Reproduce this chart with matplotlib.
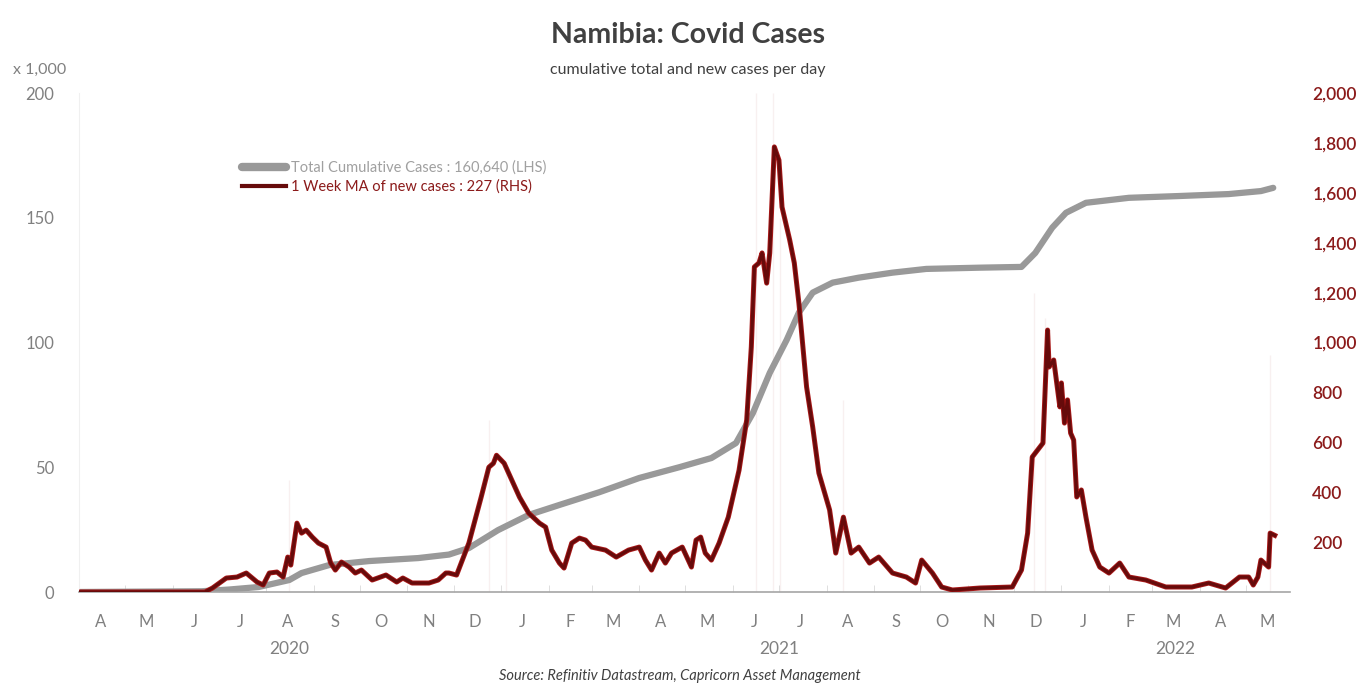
import matplotlib
matplotlib.use("Agg")
import matplotlib.pyplot as plt
import matplotlib.dates as mdates
from matplotlib.ticker import FuncFormatter
import numpy as np
import pandas as pd

plt.rcParams['font.family'] = ['Lato', 'DejaVu Sans']

# 1 week MA of new cases (RHS)
ma_dates = [
    "2020-04-01", "2020-06-22", "2020-06-27", "2020-07-06", "2020-07-13", "2020-07-19",
    "2020-07-26", "2020-07-30", "2020-08-03", "2020-08-08", "2020-08-12", "2020-08-15",
    "2020-08-17", "2020-08-21", "2020-08-24", "2020-08-27", "2020-08-31", "2020-09-04",
    "2020-09-09", "2020-09-12", "2020-09-15", "2020-09-19", "2020-09-24", "2020-09-28",
    "2020-10-02", "2020-10-09", "2020-10-18", "2020-10-25", "2020-10-29", "2020-11-04",
    "2020-11-15", "2020-11-21", "2020-11-26", "2020-11-28", "2020-12-03", "2020-12-11",
    "2020-12-19", "2020-12-24", "2020-12-27", "2020-12-29", "2021-01-03", "2021-01-08",
    "2021-01-13", "2021-01-19", "2021-01-26", "2021-01-30", "2021-02-03", "2021-02-08",
    "2021-02-11", "2021-02-16", "2021-02-21", "2021-02-25", "2021-03-01", "2021-03-10",
    "2021-03-17", "2021-03-25", "2021-04-01", "2021-04-05", "2021-04-09", "2021-04-14",
    "2021-04-18", "2021-04-22", "2021-04-29", "2021-05-05", "2021-05-08", "2021-05-11",
    "2021-05-14", "2021-05-18", "2021-05-23", "2021-05-29", "2021-06-05", "2021-06-10",
    "2021-06-13", "2021-06-15", "2021-06-18", "2021-06-20", "2021-06-23", "2021-06-25",
    "2021-06-28", "2021-07-01", "2021-07-03", "2021-07-08", "2021-07-11", "2021-07-14",
    "2021-07-19", "2021-07-23", "2021-07-27", "2021-08-03", "2021-08-07", "2021-08-12",
    "2021-08-17", "2021-08-22", "2021-08-29", "2021-09-04", "2021-09-13", "2021-09-22",
    "2021-09-28", "2021-10-02", "2021-10-09", "2021-10-15", "2021-10-22", "2021-11-09",
    "2021-11-30", "2021-12-06", "2021-12-10", "2021-12-13", "2021-12-18", "2021-12-20",
    "2021-12-23", "2021-12-24", "2021-12-27", "2021-12-31", "2022-01-01", "2022-01-03",
    "2022-01-05", "2022-01-07", "2022-01-09", "2022-01-11", "2022-01-14", "2022-01-17",
    "2022-01-21", "2022-01-26", "2022-02-01", "2022-02-08", "2022-02-14", "2022-02-25",
    "2022-03-10", "2022-03-27", "2022-04-07", "2022-04-18", "2022-04-27", "2022-05-03",
    "2022-05-06", "2022-05-09", "2022-05-11", "2022-05-16", "2022-05-17", "2022-05-20",
]
ma_values = [
    0, 0, 16, 56, 60, 76,
    40, 28, 76, 80, 60, 140,
    108, 276, 236, 248, 220, 196,
    180, 116, 88, 120, 100, 76,
    88, 48, 68, 40, 56, 36,
    36, 48, 76, 76, 68, 196,
    380, 500, 516, 548, 516, 448,
    380, 316, 276, 260, 168, 116,
    96, 196, 216, 208, 180, 168,
    140, 168, 180, 128, 88, 156,
    116, 156, 180, 100, 208, 220,
    156, 128, 196, 300, 488, 690,
    982, 1303, 1319, 1359, 1238, 1359,
    1784, 1731, 1543, 1411, 1319, 1158,
    822, 661, 477, 329, 156, 300,
    156, 180, 116, 140, 76, 60,
    36, 128, 76, 20, 8, 16,
    20, 88, 236, 541, 581, 597,
    1050, 902, 930, 742, 838, 677,
    770, 637, 609, 381, 409, 300,
    168, 100, 76, 116, 60, 48,
    20, 20, 36, 16, 60, 60,
    28, 60, 128, 100, 236, 227,
]

# total cumulative cases, thousands (LHS)
cum_dates = [
    "2020-04-01", "2020-06-20", "2020-07-08", "2020-07-27", "2020-08-16", "2020-08-24",
    "2020-09-11", "2020-10-07", "2020-11-08", "2020-11-28", "2020-12-11", "2020-12-30",
    "2021-01-19", "2021-02-08", "2021-03-06", "2021-04-01", "2021-04-27", "2021-05-18",
    "2021-06-03", "2021-06-14", "2021-06-25", "2021-07-06", "2021-07-14", "2021-07-23",
    "2021-08-05", "2021-08-22", "2021-09-13", "2021-10-05", "2021-11-09", "2021-12-06",
    "2021-12-15", "2021-12-26", "2022-01-04", "2022-01-17", "2022-02-14", "2022-03-18",
    "2022-04-20", "2022-05-11", "2022-05-19",
]
cum_values = [
    0, 0.3, 1.0, 2.0, 4.8, 7.6,
    10.8, 12.4, 13.6, 15.0, 17.6, 24.8,
    30.9, 34.9, 40.0, 45.7, 50.0, 53.7,
    59.7, 71.7, 87.8, 101.0, 112.0, 120.0,
    124.0, 126.0, 128.0, 129.5, 130.0, 130.3,
    135.9, 146.0, 152.0, 156.0, 158.0, 158.7,
    159.5, 160.7, 162.0,
]

# faint daily new-case spikes in the background (RHS units)
spike_dates = ["2020-08-16", "2020-12-24", "2021-01-04", "2021-06-16", "2021-06-27",
               "2021-07-02", "2021-08-12", "2021-12-14", "2021-12-21", "2022-05-17"]
spike_values = [450, 690, 520, 2000, 2000, 1500, 770, 1200, 1100, 950]

year_labels = ["2020", "2021", "2022"]
year_label_dates = ["2020-08-16", "2021-07-01", "2022-03-16"]

left_ticks = [0, 50, 100, 150, 200]
right_ticks = [200, 400, 600, 800, 1000, 1200, 1400, 1600, 1800, 2000]

GREY = "#999999"
RED_DARK = "#660b0b"
RED_EDGE = "#a81818"
TXT = "#808080"
RHS_TXT = "#8b1a1a"

ma_d = pd.to_datetime(ma_dates)
cum_d = pd.to_datetime(cum_dates)

fig = plt.figure(figsize=(13.71, 6.84), dpi=100)
ax = fig.add_axes([0.0576, 0.1345, 0.8834, 0.7295])
ax2 = ax.twinx()

ax.vlines(pd.to_datetime(spike_dates), 0, np.array(spike_values) / 10,
          color="#f8f0f0", lw=1.0, zorder=0)
ax.plot(cum_d, cum_values, color=GREY, lw=4.5, solid_capstyle="round", zorder=2,
        label="Total Cumulative Cases : 160,640 (LHS)")
ax2.plot(ma_d, ma_values, color=RED_EDGE, lw=3.6, solid_joinstyle="round", zorder=2)
red_line, = ax2.plot(ma_d, ma_values, color=RED_DARK, lw=2.3, solid_joinstyle="round",
                     zorder=3, label="1 Week MA of new cases : 227 (RHS)")

ax.set_ylim(0, 200)
ax2.set_ylim(0, 2000)
ax.set_xlim(pd.Timestamp("2020-04-01"), pd.Timestamp("2022-05-30"))

ax.set_yticks(left_ticks)
ax2.set_yticks(right_ticks)
ax2.yaxis.set_major_formatter(FuncFormatter(lambda v, p: f"{int(v):,}"))

ax.tick_params(axis="y", length=0, labelsize=12, labelcolor=TXT, pad=18)
ax2.tick_params(axis="y", length=0, labelsize=12.5, labelcolor=RHS_TXT, pad=16)
for t in ax2.get_yticklabels():
    t.set_fontweight("semibold")

ax.xaxis.set_major_locator(mdates.MonthLocator(bymonthday=15))
ax.xaxis.set_major_formatter(FuncFormatter(lambda v, p: mdates.num2date(v).strftime("%b")[0]))
ax.xaxis.set_minor_locator(mdates.MonthLocator())
ax.tick_params(axis="x", which="major", length=0, labelsize=12, labelcolor=TXT, pad=16)
ax.tick_params(axis="x", which="minor", direction="in", length=5, color="#d9d9d9")

for a in (ax, ax2):
    for s in ("top", "right", "left"):
        a.spines[s].set_visible(False)
ax2.spines["bottom"].set_visible(False)
ax.spines["left"].set_visible(True)
ax.spines["left"].set_color("#f0f0f0")
ax.spines["bottom"].set_color("#a6a6a6")
ax.spines["bottom"].set_linewidth(1.2)

for lab, d in zip(year_labels, year_label_dates):
    ax.text(pd.Timestamp(d), -0.115, lab, transform=ax.get_xaxis_transform(),
            ha="center", va="center", fontsize=12.5, color=TXT)

h1, l1 = ax.get_legend_handles_labels()
leg = ax.legend(h1 + [red_line], l1 + [red_line.get_label()], loc="upper left",
                bbox_to_anchor=(0.135, 0.865), frameon=False, fontsize=10.5,
                handlelength=3.0, handletextpad=0.3, labelspacing=0.35,
                borderpad=0, borderaxespad=0)
for txt, c in zip(leg.get_texts(), ["#a0a0a0", RHS_TXT]):
    txt.set_color(c)
leg.get_lines()[0].set_linewidth(6)
leg.get_lines()[1].set_linewidth(3)

fig.text(0.502, 0.949, "Namibia: Covid Cases", ha="center", va="center",
         fontsize=20.5, fontweight="bold", color="#404040")
fig.text(0.502, 0.898, "cumulative total and new cases per day", ha="center",
         va="center", fontsize=11.5, color="#404040")
fig.text(0.029, 0.898, "x 1,000", ha="center", va="center", fontsize=11.5, color=TXT)
fig.text(0.496, 0.012, "Source: Refinitiv Datastream, Capricorn Asset Management",
         ha="center", va="center", fontsize=10.5, style="italic", color="#404040")

fig.savefig("out.png", dpi=100)
